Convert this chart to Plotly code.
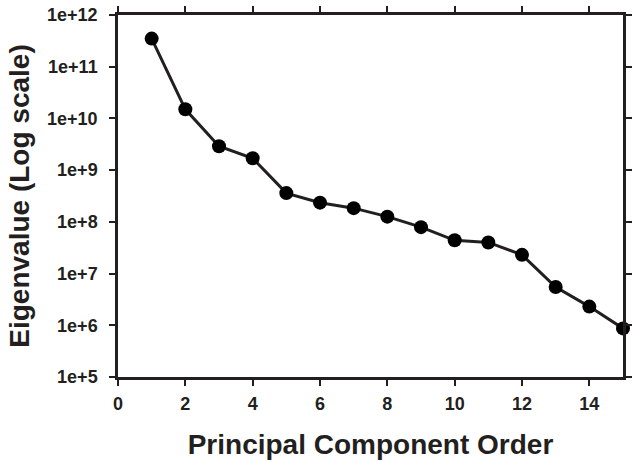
import plotly.graph_objects as go

components = list(range(1, 16))
eigenvalues = [3.5e11, 1.5e10, 2.9e9, 1.7e9, 3.6e8, 2.35e8, 1.84e8, 1.26e8,
               7.9e7, 4.4e7, 4.0e7, 2.3e7, 5.5e6, 2.3e6, 8.7e5]
x_ticks = [0, 2, 4, 6, 8, 10, 12, 14]
x_ticktext = ["0", "2", "4", "6", "8", "10", "12", "14"]
y_tickvals = [1e5, 1e6, 1e7, 1e8, 1e9, 1e10, 1e11, 1e12]
y_ticktext = ["1e+5", "1e+6", "1e+7", "1e+8", "1e+9", "1e+10", "1e+11", "1e+12"]

ink = "#231f20"
font_family = "Liberation Sans, Arial, sans-serif"

fig = go.Figure()
fig.add_trace(go.Scatter(
    x=components, y=eigenvalues, mode="lines+markers",
    line=dict(color=ink, width=3),
    marker=dict(color="black", size=14),
    cliponaxis=False, showlegend=False,
))

fig.update_layout(
    width=637, height=462,
    margin=dict(l=118, r=5, t=15, b=85),
    paper_bgcolor="white", plot_bgcolor="white",
    font=dict(family=font_family, color=ink),
    xaxis=dict(
        range=[0, 15], tickvals=x_ticks,
        ticktext=["<b>%s</b>" % t for t in x_ticktext],
        showgrid=False, zeroline=False,
        showline=True, linecolor=ink, linewidth=2.5, mirror="ticks",
        ticks="outside", ticklen=6, tickwidth=2, tickcolor=ink,
        ticklabelstandoff=3,
        tickfont=dict(size=18, family=font_family, color=ink, weight="bold"),
        title=dict(text="<b>Principal Component Order</b>",
                   font=dict(size=28, family=font_family, color=ink), standoff=22),
    ),
    yaxis=dict(
        type="log", range=[5, 12], tickvals=y_tickvals,
        ticktext=["<b>%s</b>" % t for t in y_ticktext],
        showgrid=False, zeroline=False,
        showline=True, linecolor=ink, linewidth=2.5, mirror="ticks",
        ticks="outside", ticklen=6, tickwidth=2, tickcolor=ink,
        ticklabelstandoff=8,
        tickfont=dict(size=18, family=font_family, color=ink, weight="bold"),
        title=dict(text="<b>Eigenvalue (Log scale)</b>",
                   font=dict(size=28, family=font_family, color=ink), standoff=10),
    ),
)

fig.write_html("out.html")
